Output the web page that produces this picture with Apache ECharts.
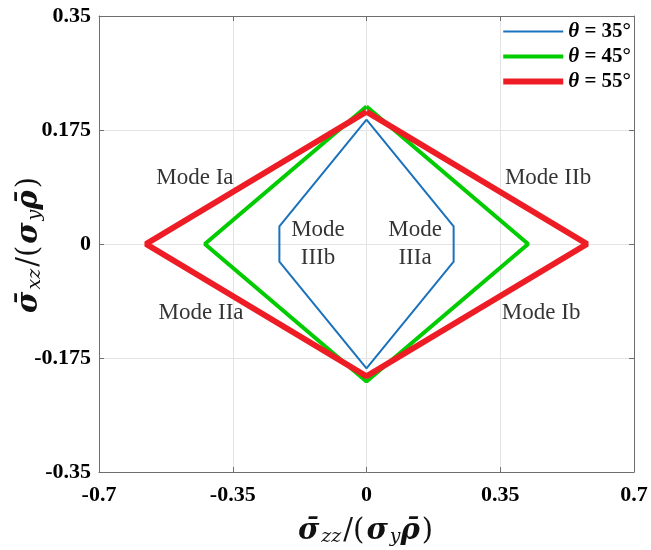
<!DOCTYPE html>
<html><head><meta charset="utf-8">
<script src="https://cdn.jsdelivr.net/npm/echarts@6/dist/echarts.min.js"></script>
<style>html,body{margin:0;padding:0;background:#fff}#c{width:651px;height:550px}</style>
</head><body><div id="c"></div>
<script>
var xTicks = [-0.7, -0.35, 0, 0.35, 0.7];
var yTicks = [-0.35, -0.175, 0, 0.175, 0.35];
var seriesNames = ['θ = 35°', 'θ = 45°', 'θ = 55°'];
var theta35 = [[0,0.191],[0.228,0.027],[0.228,-0.027],[0,-0.191],[-0.228,-0.027],[-0.228,0.027],[0,0.191]];
var theta45 = [[0,0.211],[0.423,0],[0,-0.211],[-0.423,0],[0,0.211]];
var theta55 = [[0,0.203],[0.577,0],[0,-0.203],[-0.577,0],[0,0.203]];
var modeLabels = ['Mode Ia','Mode IIb','Mode IIa','Mode Ib','Mode\nIIIb','Mode\nIIIa'];
var modePos = [[-0.449,0.101],[0.475,0.101],[-0.433,-0.106],[0.457,-0.106],[-0.127,0],[0.127,0]];

var serif = '"Liberation Serif","Times New Roman",serif';
var mathFont = '"DejaVu Serif",serif';
var colors = ['#1a72bd','#00cc00','#ee1c25'];
var widths = [2,4,6];
var chart = echarts.init(document.getElementById('c'));
var axisCommon = {
  type:'value', axisLine:{show:true,onZero:false,lineStyle:{color:'#6e6e6e',width:1}},
  axisTick:{show:true,inside:true,length:5,lineStyle:{color:'#6e6e6e'}},
  splitLine:{show:true,lineStyle:{color:'#e3e3e3',width:1}}
};
var labelStyle = {color:'#000',fontFamily:serif,fontWeight:'bold',fontSize:22};
var richName = {
  s:{fontFamily:mathFont,fontStyle:'italic',fontWeight:'bold',fontSize:29,color:'#111'},
  sub:{fontFamily:mathFont,fontStyle:'italic',fontSize:19,color:'#111',verticalAlign:'bottom',padding:[12,0,0,2]},
  n:{fontFamily:mathFont,fontSize:29,color:'#111',padding:[0,2,0,2]}
};
function sigLabel(sub){
  return '{s|σ̄}{sub|'+sub+'}{n|/(}{s|σ}{sub|y}{s|ρ̄}{n|)}';
}
function fmt(v){return String(+v.toFixed(3));}
var option = {
  animation:false,
  backgroundColor:'#fff',
  grid:{left:99,right:17,top:16,bottom:78,containLabel:false,outerBoundsMode:'none'},
  xAxis:[
    Object.assign({}, axisCommon, {min:xTicks[0],max:xTicks[xTicks.length-1],interval:0.35,position:'bottom',
      axisLabel:Object.assign({margin:12,formatter:fmt},labelStyle),
      name:sigLabel('zz'),nameLocation:'middle',nameGap:44,nameTextStyle:{rich:richName}}),
    Object.assign({}, axisCommon, {min:xTicks[0],max:xTicks[xTicks.length-1],interval:0.35,position:'top',
      axisLabel:{show:false},splitLine:{show:false}})
  ],
  yAxis:[
    Object.assign({}, axisCommon, {min:yTicks[0],max:yTicks[yTicks.length-1],interval:0.175,position:'left',
      axisLabel:Object.assign({margin:8,formatter:fmt},labelStyle),
      name:sigLabel('xz'),nameLocation:'middle',nameGap:54,nameMoveOverlap:false,nameRotate:90,nameTextStyle:{rich:richName}}),
    Object.assign({}, axisCommon, {min:yTicks[0],max:yTicks[yTicks.length-1],interval:0.175,position:'right',
      axisLabel:{show:false},splitLine:{show:false}})
  ],
  legend:{
    orient:'vertical',right:19,top:20,itemWidth:60,itemHeight:10,itemGap:4,
    backgroundColor:'#fff',padding:[1,1,1,2],
    data:seriesNames.map(function(n,i){
      return {name:n,icon:'path://M0,0 H60 V'+widths[i]+' H0 Z',itemStyle:{color:colors[i]}};
    }),
    textStyle:{fontFamily:serif,fontWeight:'bold',fontSize:21,lineHeight:20,color:'#000',
      rich:{t:{fontFamily:serif,fontStyle:'italic',fontWeight:'bold',fontSize:21,lineHeight:20,color:'#000'}}},
    formatter:function(n){return '{t|θ}'+n.slice(1);}
  },
  series:[
    {name:seriesNames[0],type:'line',data:theta35,showSymbol:false,symbol:'none',lineStyle:{color:colors[0],width:widths[0]},itemStyle:{color:colors[0]},z:3},
    {name:seriesNames[1],type:'line',data:theta45,showSymbol:false,symbol:'none',lineStyle:{color:colors[1],width:widths[1]},itemStyle:{color:colors[1]},z:4},
    {name:seriesNames[2],type:'line',data:theta55,showSymbol:false,symbol:'none',lineStyle:{color:colors[2],width:widths[2]},itemStyle:{color:colors[2]},z:5},
    {type:'scatter',symbolSize:0,silent:true,z:6,
      data:modePos.map(function(p,i){return {value:p,name:modeLabels[i]};}),
      label:{show:true,position:'inside',formatter:'{b}',fontFamily:serif,fontSize:23,color:'#000',lineHeight:28}}
  ]
};
chart.setOption(option);
</script></body></html>
